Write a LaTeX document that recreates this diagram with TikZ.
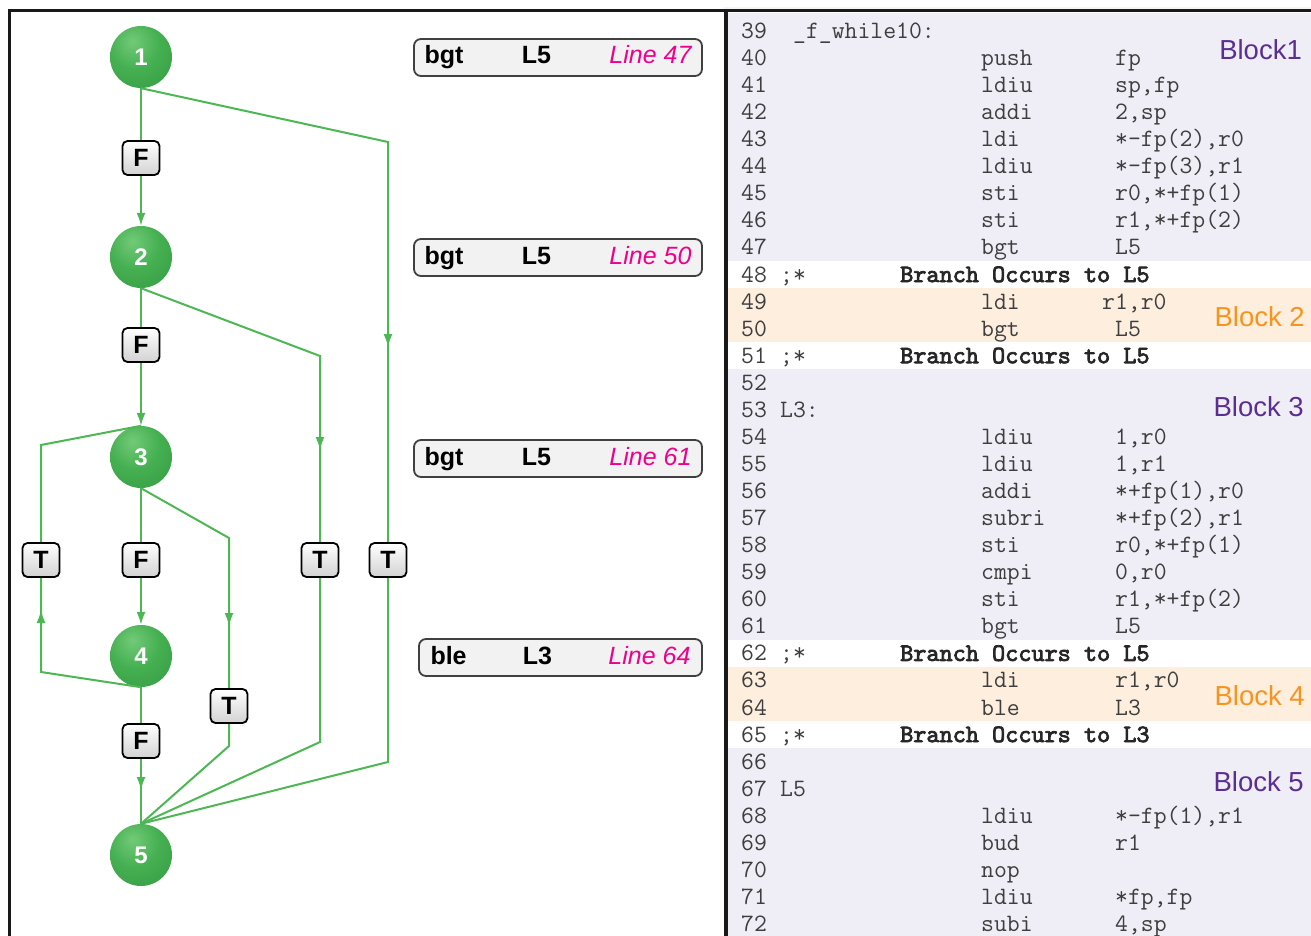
\documentclass[tikz,border=0pt]{standalone}
\usepackage{fontspec}
\setmainfont{Liberation Sans}
\newfontfamily\asmbf{lmmono10-regular.otf}[FakeBold=3]
\usetikzlibrary{arrows.meta}
\usetikzlibrary{calc}

\definecolor{edgegreen}{RGB}{77,183,83}
\definecolor{blockpurple}{RGB}{91,46,145}
\definecolor{blockorange}{RGB}{247,148,30}
\definecolor{linepink}{RGB}{236,0,140}
\definecolor{bandblue}{RGB}{239,238,247}
\definecolor{bandpeach}{RGB}{253,238,222}
\definecolor{codegray}{RGB}{62,62,62}

\pgfdeclareradialshading{greenball}{\pgfpoint{-7bp}{13bp}}{%
  rgb(0bp)=(0.45,0.79,0.47);
  rgb(20bp)=(0.27,0.69,0.32);
  rgb(40bp)=(0.22,0.62,0.27);
  rgb(52bp)=(0.15,0.48,0.19);
  rgb(66bp)=(0.05,0.26,0.08);
  rgb(100bp)=(0.05,0.26,0.08)}

\tikzset{
  bnode/.style={circle, shade, shading=greenball, minimum size=62pt, inner sep=0pt,
    text=white, font=\fontsize{24}{24}\selectfont\bfseries},
  flow/.style={draw=edgegreen, line width=2pt},
  garrow/.style={flow, -{Latex[length=13pt,width=9pt]}},
  cond/.style={draw=black, line width=1.8pt, rounded corners=5pt, top color=white,
    bottom color=gray!35, minimum width=37pt, minimum height=34pt, inner sep=0pt,
    font=\fontsize{25}{25}\selectfont\bfseries},
  instr/.style={draw=black!75, line width=1.8pt, rounded corners=7pt, fill=black!5,
    minimum width=288pt, minimum height=37pt, inner xsep=8pt, inner ysep=0pt,
    text height=18pt, text depth=5pt, font=\fontsize{25}{25}\selectfont},
  asm/.style={anchor=base west, inner sep=0pt, text=codegray,
    font=\fontsize{25}{30}\selectfont\ttfamily},
  asmbold/.style={anchor=base west, inner sep=0pt, text=black!85,
    font=\asmbf\fontsize{25}{30}\selectfont},
  blocklab/.style={anchor=east, inner sep=0pt, font=\fontsize{27.5}{30}\selectfont}
}

\begin{document}
\begin{tikzpicture}[x=1pt,y=-1pt]
  \useasboundingbox (0,0) rectangle (1311,936);

  % listing bands
  \fill[black!4] (724,7) rectangle (1311,10);
  \fill[bandblue] (728,13) rectangle (1311,261);
  \fill[bandpeach] (728,288) rectangle (1311,342);
  \fill[bandblue] (728,369) rectangle (1311,640);
  \fill[bandpeach] (728,667) rectangle (1311,721);
  \fill[bandblue] (728,748) rectangle (1311,936);

  % frame
  \draw[line width=3pt, black!90] (9.5,936) -- (9.5,11) -- (1311,11);
  \draw[line width=3.5pt, black!90] (726,11) -- (726,936);

  % basic blocks
  \foreach \i/\y in {1/57,2/257,3/457,4/656,5/855}
    \node[bnode] (n\i) at (141,\y) {\i};

  % bends of the taken branches
  \coordinate (b15) at (388,142);
  \coordinate (c15) at (388,762);
  \coordinate (b25) at (320,356);
  \coordinate (c25) at (320,742);
  \coordinate (b35) at (229,538);
  \coordinate (c35) at (229,746);
  \coordinate (b43) at (41,672);
  \coordinate (c43) at (41,445);
  % where the arrow heads sit
  \coordinate (a15) at (388,347);
  \coordinate (a25) at (320,450);
  \coordinate (a35) at (229,626);
  \coordinate (a43) at (41,610);
  \coordinate (a45) at (141,790);

  % fall through
  \draw[garrow] (n1.south) -- (n2.north);
  \draw[garrow] (n2.south) -- (n3.north);
  \draw[garrow] (n3.south) -- (n4.north);
  \draw[flow] (n4.south) -- (n5.north);
  \draw[garrow] (n4.south) -- (a45);

  % taken
  \draw[flow] (n1.south) -- (b15) -- (c15) -- (n5.north);
  \draw[garrow] (b15) -- (a15);
  \draw[flow] (n2.south) -- (b25) -- (c25) -- (n5.north);
  \draw[garrow] (b25) -- (a25);
  \draw[flow] (n3.south) -- (b35) -- (c35) -- (n5.north);
  \draw[garrow] (b35) -- (a35);
  \draw[flow] (n4.south) -- (b43) -- (c43) -- (n3.north);
  \draw[garrow] (b43) -- (a43);

  \node[cond] (f12) at (141,158) {F};
  \node[cond] (f23) at (141,345) {F};
  \node[cond] (f34) at (141,560) {F};
  \node[cond] (f45) at (141,741) {F};
  \node[cond] (t43) at (41,560) {T};
  \node[cond] (t35) at (229,706) {T};
  \node[cond] (t25) at (320,560) {T};
  \node[cond] (t15) at (388,560) {T};

  % branch instructions
  \node[instr] (i47) at (558,57.5)
    {\makebox[267pt]{\textbf{bgt}\hfill\textbf{L5}\hfill\textcolor{linepink}{\itshape Line 47}}};
  \node[instr] (i50) at (558,257.5)
    {\makebox[267pt]{\textbf{bgt}\hfill\textbf{L5}\hfill\textcolor{linepink}{\itshape Line 50}}};
  \node[instr] (i61) at (558,458.5)
    {\makebox[267pt]{\textbf{bgt}\hfill\textbf{L5}\hfill\textcolor{linepink}{\itshape Line 61}}};
  \node[instr, minimum width=283pt] (i64) at (560.5,657.5)
    {\makebox[260pt]{\textbf{ble}\hfill\textbf{L3}\hfill\textcolor{linepink}{\itshape Line 64}}};

  % listing
  \foreach \r in {39,...,72}
    \node[asm] (ln\r) at (741,{38.5+(\r-39)*27.06}) {\r};
  \node[asm] (lab39) at (793,38.5) {\_f\_while10:};
  \foreach \r/\lab in {53/{L3:},67/{L5}}
    \node[asm] (lab\r) at (780,{38.5+(\r-39)*27.06}) {\lab};
  \foreach \r/\dst in {48/L5,51/L5,62/L5,65/L3} {
    \node[asm] (cm\r) at (780,{38.5+(\r-39)*27.06}) {;*};
    \node[asmbold] (br\r) at (900,{38.5+(\r-39)*27.06}) {Branch Occurs to \dst};
  }
  \foreach \r/\ins/\arg in {40/push/fp, 41/ldiu/{sp,fp}, 42/addi/{2,sp},
      43/ldi/{*-fp(2),r0}, 44/ldiu/{*-fp(3),r1}, 45/sti/{r0,*+fp(1)},
      46/sti/{r1,*+fp(2)}, 47/bgt/L5, 50/bgt/L5, 54/ldiu/{1,r0}, 55/ldiu/{1,r1},
      56/addi/{*+fp(1),r0}, 57/subri/{*+fp(2),r1}, 58/sti/{r0,*+fp(1)},
      59/cmpi/{0,r0}, 60/sti/{r1,*+fp(2)}, 61/bgt/L5, 63/ldi/{r1,r0}, 64/ble/L3,
      68/ldiu/{*-fp(1),r1}, 69/bud/r1, 70/nop/{}, 71/ldiu/{*fp,fp}, 72/subi/{4,sp}} {
    \node[asm] (op\r) at (981,{38.5+(\r-39)*27.06}) {\ins};
    \node[asm] (arg\r) at (1115,{38.5+(\r-39)*27.06}) {\arg};
  }
  \node[asm] (op49) at (981,{38.5+10*27.06}) {ldi};
  \node[asm] (arg49) at (1102,{38.5+10*27.06}) {r1,r0};

  \node[blocklab, text=blockpurple] (blk1) at (1302,50) {Block1};
  \node[blocklab, text=blockorange] (blk2) at (1305,317) {Block 2};
  \node[blocklab, text=blockpurple] (blk3) at (1304,407) {Block 3};
  \node[blocklab, text=blockorange] (blk4) at (1305,696) {Block 4};
  \node[blocklab, text=blockpurple] (blk5) at (1304,782) {Block 5};
\end{tikzpicture}
\end{document}
